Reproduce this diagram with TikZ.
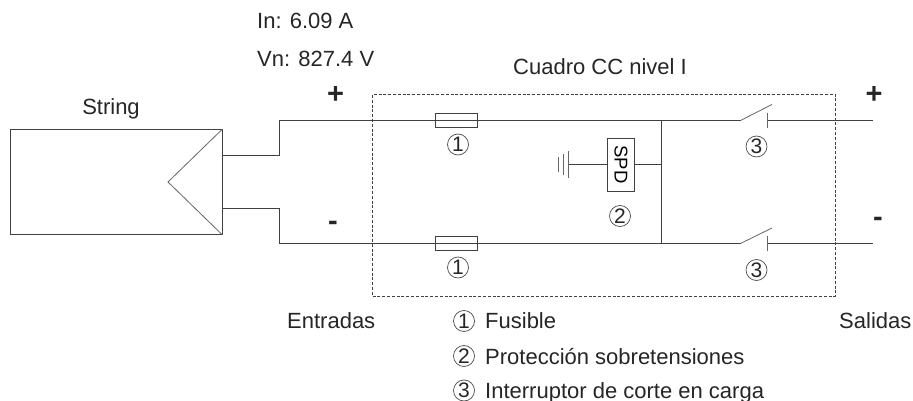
\documentclass[tikz,border=0pt]{standalone}
\usepackage{fontspec}
\setmainfont{Liberation Sans}
\tikzset{
  x=1pt,y=-1pt,
  wire/.style={draw=black!75,line width=0.9pt},
  thinline/.style={draw=black!60,line width=0.8pt},
  lbl/.style={inner sep=0pt,anchor=base,text=black!85,font=\fontsize{22}{24}\selectfont},
  lleft/.style={lbl,anchor=base west},
  signn/.style={inner sep=0pt,text=black!85,font=\fontsize{29}{30}\selectfont\bfseries},
  num/.style={circle,draw=black!70,line width=0.7pt,minimum size=21pt,inner sep=0pt,text=black!85,font=\fontsize{21}{24}\selectfont},
  fuse/.style={rectangle,draw=black!75,fill=white,line width=0.8pt,minimum width=42.5pt,minimum height=14.5pt,inner sep=0pt},
  spdbox/.style={rectangle,draw=black!75,fill=white,line width=0.8pt,minimum width=27pt,minimum height=53pt,inner sep=0pt,font=\fontsize{18.5}{22}\selectfont,text=black},
  panel/.style={rectangle,draw=black!75,line width=0.9pt,minimum width=211.5pt,minimum height=105pt,inner sep=0pt},
  cuadro/.style={rectangle,draw=black!75,line width=0.7pt,dash pattern=on 3pt off 1.8pt,minimum width=463pt,minimum height=201.5pt,inner sep=0pt}
}
\begin{document}
\begin{tikzpicture}
\useasboundingbox (0,0) rectangle (913,401);
\fill[white] (0,0) rectangle (913,401);
% panel
\node[panel] (string) at (116.25,182) {};
\coordinate (tip) at (168,182);
\coordinate (st) at (222,155.5);
\coordinate (sb) at (222,208.5);
\draw[thinline] (string.north east) -- (tip) -- (string.south east);
% cabinet
\node[cuadro] (cc) at (604,195.25) {};
% junction and end points
\coordinate (jt) at (279,120.5);
\coordinate (jb) at (279,243.5);
\coordinate (bust) at (661,120.5);
\coordinate (busb) at (661,243.5);
\coordinate (bladet0) at (740.5,120.5);
\coordinate (bladet1) at (772,104.5);
\coordinate (bladeb0) at (740.5,243.5);
\coordinate (bladeb1) at (772,228);
\coordinate (contt) at (767,120.5);
\coordinate (contb) at (767,243.5);
\coordinate (endt) at (873,120.5);
\coordinate (endb) at (873,243.5);
\coordinate (busm) at (661,164);
% wires
\draw[wire] (st) -| (jt) -- (bust) -- (bladet0);
\draw[wire] (sb) -| (jb) -- (busb) -- (bladeb0);
\draw[wire] (bust) -- (busb);
\draw[wire] (contt) -- (endt);
\draw[wire] (contb) -- (endb);
% switches
\draw[thinline] (bladet0) -- (bladet1);
\draw[thinline] (bladeb0) -- (bladeb1);
\draw[thinline] ([yshift=-7.5pt]contt) -- ([yshift=7.5pt]contt);
\draw[thinline] ([yshift=-7.5pt]contb) -- ([yshift=7.5pt]contb);
% fuses
\node[fuse] (f1) at (456.5,120.5) {};
\node[fuse] (f2) at (456.5,243.5) {};
\draw[wire] (f1.west) -- (f1.east);
\draw[wire] (f2.west) -- (f2.east);
% SPD
\node[spdbox] (spd) at (621,164.5) {\rotatebox{-90}{SPD}};
\coordinate (g1) at (568,164.5);
\coordinate (g2) at (563,164.5);
\coordinate (g3) at (558,164.5);
\draw[wire] (spd.east) -- (spd.east -| busm);
\draw[wire] (spd.west) -- (g1);
\draw[thinline] ([yshift=-13.5pt]g1) -- ([yshift=13.5pt]g1);
\draw[thinline] ([yshift=-10pt]g2) -- ([yshift=10pt]g2);
\draw[thinline] ([yshift=-7pt]g3) -- ([yshift=7pt]g3);
% numbers
\node[num] (n1a) at (458,144.5) {1};
\node[num] (n1b) at (458,267.5) {1};
\node[num] (n2) at (620,216) {2};
\node[num] (n3a) at (756.5,146.5) {3};
\node[num] (n3b) at (756.5,270) {3};
\node[num] (l1) at (464,321) {1};
\node[num] (l2) at (464,356) {2};
\node[num] (l3) at (464,390.5) {3};
% labels
\node[lleft] (in) at (257,29) {In: 6.09 A};
\node[lleft] (vn) at (257,66.5) {Vn: 827.4 V};
\node[lleft] (title) at (513,74.5) {Cuadro CC nivel I};
\node[lbl] (stl) at (111,115) {String};
\node[signn] (p1) at (335.5,95) {+};
\node[signn] (p2) at (874,95) {+};
\node[signn] (m1) at (333,226) {-};
\node[signn] (m2) at (878,222) {-};
\node[lleft] (ent) at (287,328) {Entradas};
\node[lleft] (sal) at (839,328) {Salidas};
\node[lleft] (t1) at (485,328) {Fusible};
\node[lleft] (t2) at (485,364) {Protección sobretensiones};
\node[lleft] (t3) at (485,398) {Interruptor de corte en carga};
\end{tikzpicture}
\end{document}
